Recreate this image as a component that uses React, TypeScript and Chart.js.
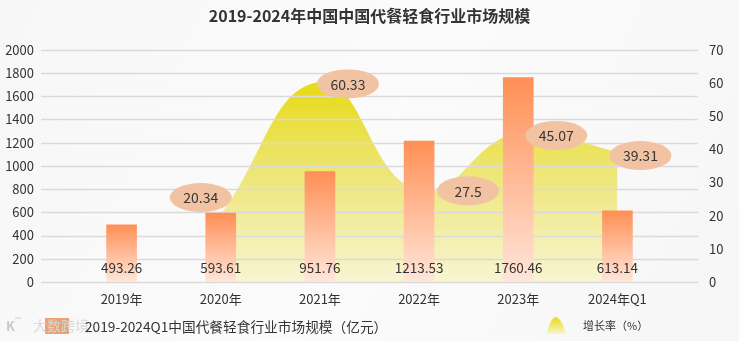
import React, { useEffect, useRef } from 'react';
import { Chart, registerables } from 'chart.js';

Chart.register(...registerables);

const TITLE = '2019-2024年中国中国代餐轻食行业市场规模';
const CATEGORIES = ['2019年', '2020年', '2021年', '2022年', '2023年', '2024年Q1'];
const MARKET_SIZE = [493.26, 593.61, 951.76, 1213.53, 1760.46, 613.14];
const GROWTH_RATE: (number | null)[] = [null, 20.34, 60.33, 27.5, 45.07, 39.31];
const LEFT_MAX = 2000;
const LEFT_STEP = 200;
const RIGHT_MAX = 70;
const RIGHT_STEP = 10;
const BAR_LEGEND = '2019-2024Q1中国代餐轻食行业市场规模（亿元）';
const LINE_LEGEND = '增长率（%）';
const WATERMARK = '大数跨境';

// label bubble offsets (style)
const BUBBLE_OFFSETS: [number, number][] = [[0, 0], [-20, -17], [28, 2], [49, 0], [38, 3], [23, 4]];

const FONT = '"Noto Sans CJK SC", "Noto Sans", sans-serif';

const decorPlugin = {
  id: 'decor',
  beforeDraw(chart: any) {
    const { ctx, width, height } = chart;
    ctx.save();
    const bg = ctx.createLinearGradient(0, 0, width, height);
    bg.addColorStop(0, '#f7f7f7');
    bg.addColorStop(0.5, '#fbfbfb');
    bg.addColorStop(1, '#f6f6f6');
    ctx.fillStyle = bg;
    ctx.fillRect(0, 0, width, height);
    ctx.restore();
  },
  beforeDatasetsDraw(chart: any) {
    const { ctx, chartArea } = chart;
    const ys = chart.scales.y;
    ctx.save();
    ctx.strokeStyle = '#dadada';
    ctx.lineWidth = 1.6;
    ys.ticks.forEach((t: any) => {
      const py = Math.round(ys.getPixelForValue(t.value)) + 0.5;
      ctx.beginPath();
      ctx.moveTo(chartArea.left - 31, py);
      ctx.lineTo(chartArea.right + 31, py);
      ctx.stroke();
    });
    ctx.restore();
  },
  afterDatasetsDraw(chart: any) {
    const { ctx } = chart;
    const ys = chart.scales.y;
    const barMeta = chart.getDatasetMeta(0);
    const lineMeta = chart.getDatasetMeta(1);
    ctx.save();
    ctx.textAlign = 'center';
    ctx.textBaseline = 'middle';
    ctx.font = `13.5px ${FONT}`;
    ctx.fillStyle = '#333';
    barMeta.data.forEach((bar: any, i: number) => {
      ctx.fillText(MARKET_SIZE[i].toFixed(2), bar.x, ys.getPixelForValue(0) - 14);
    });
    lineMeta.data.forEach((pt: any, i: number) => {
      const v = GROWTH_RATE[i];
      if (v == null) return;
      const [dx, dy] = BUBBLE_OFFSETS[i];
      const cx = pt.x + dx;
      const cy = pt.y + dy;
      ctx.beginPath();
      ctx.ellipse(cx, cy, 31, 14.5, 0, 0, Math.PI * 2);
      ctx.fillStyle = '#f1c3a3';
      ctx.fill();
      ctx.fillStyle = '#363636';
      ctx.font = `14px ${FONT}`;
      ctx.fillText(String(v), cx, cy + 0.5);
    });
    ctx.restore();
  },
  afterDraw(chart: any) {
    const { ctx, width } = chart;
    ctx.save();
    // title
    ctx.textAlign = 'center';
    ctx.textBaseline = 'middle';
    ctx.fillStyle = '#333';
    ctx.font = `bold 16px ${FONT}`;
    ctx.fillText(TITLE, width / 2, 16);

    // watermark
    ctx.textAlign = 'left';
    ctx.font = `bold 13px ${FONT}`;
    ctx.fillStyle = 'rgba(195,195,195,0.9)';
    ctx.fillText('K', 6, 326);
    ctx.font = `8px ${FONT}`;
    ctx.fillText('°°', 15, 320);
    ctx.fillStyle = 'rgba(232,140,80,0.8)';
    ctx.fillRect(45, 318, 24, 16);
    ctx.font = `14px ${FONT}`;
    ctx.fillStyle = 'rgba(215,215,215,0.95)';
    ctx.fillText(WATERMARK, 33, 326);

    // bar legend
    ctx.fillStyle = '#333';
    ctx.font = `13.7px ${FONT}`;
    ctx.fillText(BAR_LEGEND, 85, 327);

    // line legend icon
    const g = ctx.createLinearGradient(0, 317, 0, 334);
    g.addColorStop(0, '#e8dc10');
    g.addColorStop(1, '#f8f4d0');
    ctx.fillStyle = g;
    ctx.beginPath();
    ctx.moveTo(547, 334);
    ctx.bezierCurveTo(549, 322, 553, 317, 556, 317);
    ctx.bezierCurveTo(560, 318, 564, 326, 566, 334);
    ctx.closePath();
    ctx.fill();
    ctx.fillStyle = '#333';
    ctx.font = `11px ${FONT}`;
    ctx.fillText(LINE_LEGEND, 583, 326);
    ctx.restore();
  },
};

export default function App() {
  const ref = useRef<HTMLCanvasElement>(null);
  useEffect(() => {
    document.body.style.margin = '0';
    const canvas = ref.current!;
    const chart = new Chart(canvas, {
      type: 'bar',
      data: {
        labels: CATEGORIES,
        datasets: [
          {
            type: 'bar',
            label: BAR_LEGEND,
            data: MARKET_SIZE,
            yAxisID: 'y',
            order: 0,
            barThickness: 30,
            backgroundColor: (c: any) => {
              const ch = c.chart;
              const ys = ch.scales?.y;
              if (!ch.chartArea || !ys || c.raw == null) return '#ff9a60';
              const top = ys.getPixelForValue(c.raw);
              const bottom = ys.getPixelForValue(0);
              const g = ch.ctx.createLinearGradient(0, top, 0, bottom);
              g.addColorStop(0, '#ff8f55');
              g.addColorStop(1, '#ffe6da');
              return g;
            },
          } as any,
          {
            type: 'line',
            label: LINE_LEGEND,
            data: GROWTH_RATE,
            yAxisID: 'y1',
            order: 1,
            fill: 'origin',
            tension: 0.45,
            pointRadius: 0,
            borderWidth: 0,
            borderColor: 'rgba(0,0,0,0)',
            backgroundColor: (c: any) => {
              const ch = c.chart;
              if (!ch.chartArea) return '#ece46a';
              const g = ch.ctx.createLinearGradient(0, ch.chartArea.top + 30, 0, ch.chartArea.bottom);
              g.addColorStop(0, '#e6da12');
              g.addColorStop(0.5, '#eee77e');
              g.addColorStop(1, '#f8f5d2');
              return g;
            },
          } as any,
        ],
      },
      options: {
        responsive: false,
        animation: false,
        layout: { padding: { top: 31, bottom: 0, left: 0, right: 0 } },
        plugins: {
          legend: { display: false },
          tooltip: { enabled: false },
          title: { display: false },
          filler: { drawTime: 'beforeDatasetsDraw' },
        } as any,
        scales: {
          x: {
            offset: true,
            grid: { display: false, drawTicks: false },
            border: { display: false },
            ticks: { color: '#333', font: { family: FONT, size: 13 }, padding: 9 },
            afterFit: (s: any) => { s.height = 59; },
          },
          y: {
            position: 'left',
            min: 0,
            max: LEFT_MAX,
            ticks: {
              stepSize: LEFT_STEP,
              color: '#333',
              font: { family: FONT, size: 13 },
              padding: 38,
              callback: (v: any) => String(v),
            },
            grid: { display: false, drawTicks: false },
            border: { display: false },
            afterFit: (s: any) => { s.width = 72; },
          },
          y1: {
            position: 'right',
            min: 0,
            max: RIGHT_MAX,
            ticks: {
              stepSize: RIGHT_STEP,
              color: '#333',
              font: { family: FONT, size: 13 },
              padding: 42,
              callback: (v: any) => String(v),
            },
            grid: { display: false, drawTicks: false },
            border: { display: false },
            afterFit: (s: any) => { s.width = 72; },
          },
        },
      },
      plugins: [decorPlugin],
    });
    return () => chart.destroy();
  }, []);
  return (
    <div style={{ position: 'absolute', left: 0, top: 0, width: 739, height: 341 }}>
      <canvas ref={ref} width={739} height={341} style={{ display: 'block' }} />
    </div>
  );
}
